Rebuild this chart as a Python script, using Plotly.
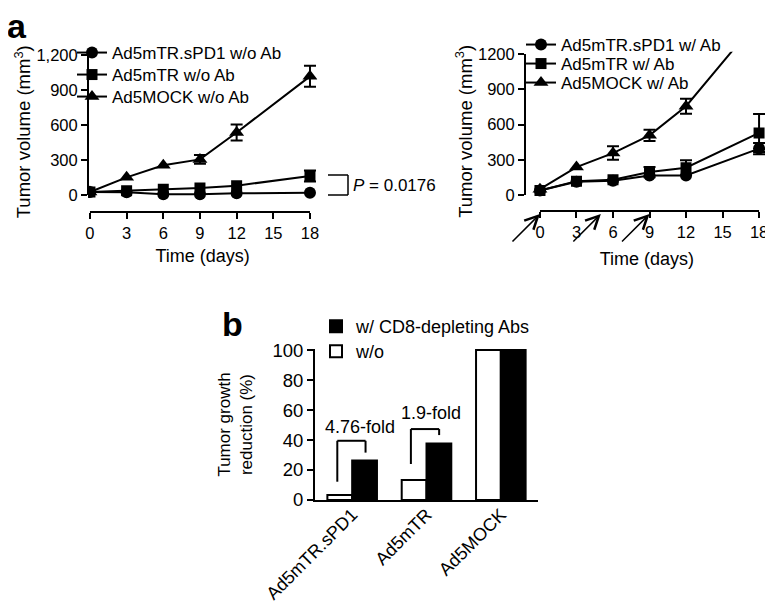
import plotly.graph_objects as go

# ---------------- data ----------------
days = [0, 3, 6, 9, 12, 18]
x_ticks = [0, 3, 6, 9, 12, 15, 18]
y_ticks = [0, 300, 600, 900, 1200]
y_ticklabels_left = ["0", "300", "600", "900", "1,200"]
y_ticklabels_right = ["0", "300", "600", "900", "1200"]

# panel a, left (without antibody)
spd1_wo = [25, 23, 6, 6, 14, 20]
spd1_wo_err = [0, 0, 0, 0, 0, 0]
mtr_wo = [25, 37, 49, 60, 80, 162]
mtr_wo_err = [0, 0, 0, 0, 0, 47]
mock_wo = [25, 151, 254, 305, 536, 1017]
mock_wo_err = [0, 0, 0, 38, 68, 90]

# panel a, right (with antibody)
spd1_w = [38, 113, 122, 167, 167, 395]
spd1_w_err = [0, 0, 0, 0, 0, 48]
mtr_w = [38, 118, 130, 195, 232, 528]
mtr_w_err = [0, 0, 0, 43, 63, 162]
mock_w = [50, 238, 357, 508, 756, 1500]
mock_w_err = [0, 0, 57, 48, 64, 0]

arrow_days = [0, 5, 9]

# panel b
groups = ["Ad5mTR.sPD1", "Ad5mTR", "Ad5MOCK"]
reduction_wo = [3.3, 13.3, 100]
reduction_w = [26.4, 37.6, 100]
b_ticks = [0, 20, 40, 60, 80, 100]

# ---------------- layout helpers ----------------
# the page body adds an 8 px margin, so the figure is 8 px smaller and
# positions below are given in window pixels
OFF = 8
W, H = 773 - OFF, 604 - OFF
FONT = "Liberation Sans, Arial, Helvetica, sans-serif"


def px(x):
    return (x - OFF) / W


def py(y):
    return 1 - (y - OFF) / H


fig = go.Figure()

series_left = [
    ("Ad5mTR.sPD1 w/o Ab", spd1_wo, spd1_wo_err, "circle", 12, "legend", 53),
    ("Ad5mTR w/o Ab", mtr_wo, mtr_wo_err, "square", 11, "legend2", 75),
    ("Ad5MOCK w/o Ab", mock_wo, mock_wo_err, "triangle-up", 13, "legend3", 97),
]
series_right = [
    ("Ad5mTR.sPD1 w/ Ab", spd1_w, spd1_w_err, "circle", 12, "legend4", 45),
    ("Ad5mTR w/ Ab", mtr_w, mtr_w_err, "square", 11, "legend5", 64),
    ("Ad5MOCK w/ Ab", mock_w, mock_w_err, "triangle-up", 13, "legend6", 83),
]


def add_series(series, xa, ya):
    # error bars only where an error is visible
    for (name, vals, err, sym, size, lg, _) in series:
        ex = [d for d, e in zip(days, err) if e > 0]
        ey = [v for v, e in zip(vals, err) if e > 0]
        ee = [e for e in err if e > 0]
        if ex:
            fig.add_trace(go.Scatter(
                x=ex, y=ey, mode="markers", showlegend=False, hoverinfo="skip",
                marker=dict(size=1, color="rgba(0,0,0,0)"),
                error_y=dict(type="data", array=ee, visible=True, color="black",
                             thickness=2, width=6),
                xaxis=xa, yaxis=ya,
            ))
    for (name, vals, err, sym, size, lg, _) in series:
        fig.add_trace(go.Scatter(
            x=days, y=vals, name=name, mode="lines+markers",
            line=dict(color="black", width=2),
            marker=dict(symbol=sym, size=size, color="black"),
            xaxis=xa, yaxis=ya, legend=lg,
        ))


add_series(series_left, "x", "y")
add_series(series_right, "x2", "y2")

fig.add_trace(go.Bar(
    x=groups, y=reduction_wo, name="w/o",
    marker=dict(color="white", line=dict(color="black", width=2)),
    xaxis="x3", yaxis="y3", legend="legend8",
))
fig.add_trace(go.Bar(
    x=groups, y=reduction_w, name="w/ CD8-depleting Abs",
    marker=dict(color="black", line=dict(color="black", width=2)),
    xaxis="x3", yaxis="y3", legend="legend7",
))

axis_common = dict(
    showgrid=False, zeroline=False, showline=False, automargin=False,
    ticks="outside", ticklen=6, tickwidth=2, tickcolor="black",
    tickfont=dict(size=16.5, color="black", family=FONT),
)

legends = {}
for (name, _, _, _, _, lg, yrow) in series_left:
    legends[lg] = dict(x=px(72), y=py(yrow), xanchor="left", yanchor="middle",
                       bgcolor="rgba(0,0,0,0)", font=dict(size=17))
for (name, _, _, _, _, lg, yrow) in series_right:
    legends[lg] = dict(x=px(521), y=py(yrow), xanchor="left", yanchor="middle",
                       bgcolor="rgba(0,0,0,0)", font=dict(size=17))
legends["legend7"] = dict(x=px(316), y=py(326.5), xanchor="left", yanchor="middle",
                          bgcolor="rgba(0,0,0,0)", font=dict(size=18))
legends["legend8"] = dict(x=px(316), y=py(351.5), xanchor="left", yanchor="middle",
                          bgcolor="rgba(0,0,0,0)", font=dict(size=18))

fig.update_layout(
    width=W, height=H,
    margin=dict(l=0, r=0, t=0, b=0, autoexpand=False),
    paper_bgcolor="white", plot_bgcolor="white",
    font=dict(family=FONT, color="black", size=17),
    barmode="group", bargap=0.333, bargroupgap=0,
    xaxis=dict(domain=[px(88), px(317.3)], range=[-0.16, 18.6],
               tickvals=x_ticks, anchor="y",
               title=dict(text="Time (days)", font=dict(size=18), standoff=8),
               **axis_common),
    yaxis=dict(domain=[py(212), py(51.5)], range=[-146, 1230],
               tickvals=y_ticks, ticktext=y_ticklabels_left, anchor="x",
               title=dict(text="Tumor volume (mm<sup>3</sup>)", font=dict(size=18.5), standoff=0),
               **axis_common),
    xaxis2=dict(domain=[px(525), px(768.8)], range=[-1.23, 18.8],
                tickvals=x_ticks, anchor="y2",
                title=dict(text="Time (days)", font=dict(size=18), standoff=12),
                **axis_common),
    yaxis2=dict(domain=[py(211), py(51.65)], range=[-136, 1220],
                tickvals=y_ticks, ticktext=y_ticklabels_right, anchor="x2",
                title=dict(text="Tumor volume (mm<sup>3</sup>)", font=dict(size=18.5), standoff=0),
                **axis_common),
    xaxis3=dict(domain=[px(315), px(538)], range=[-0.5, 2.5], anchor="y3",
                showgrid=False, zeroline=False, showline=True, linewidth=2,
                linecolor="black", ticks="", tickangle=-45, automargin=False,
                ticklabelstandoff=-5,
                tickfont=dict(size=18, color="black", family=FONT)),
    yaxis3=dict(domain=[py(500), py(349)], range=[0, 100.7], anchor="x3",
                tickvals=b_ticks, automargin=False,
                showgrid=False, zeroline=False, showline=True, linewidth=2,
                linecolor="black", ticks="outside", ticklen=6, tickwidth=2,
                tickcolor="black",
                tickfont=dict(size=18.5, color="black", family=FONT),
                title=dict(text="Tumor growth<br>reduction (%)", font=dict(size=17), standoff=15)),
    **legends,
)

# offset-style axis lines for panel a
shapes = []
for xa, ya, ymax in (("x", "y", 1200), ("x2", "y2", 1200)):
    shapes.append(dict(type="line", xref=f"{xa} domain", yref=ya,
                       x0=0, x1=0, y0=0, y1=ymax,
                       line=dict(color="black", width=2)))
    shapes.append(dict(type="line", xref=xa, yref=f"{ya} domain",
                       x0=0, x1=18, y0=0, y1=0,
                       line=dict(color="black", width=2)))

# P-value bracket (left panel)
for (x0, y0, x1, y1) in ((328, 175, 348, 175), (348, 175, 348, 195), (328, 195, 348, 195)):
    shapes.append(dict(type="line", xref="paper", yref="paper",
                       x0=px(x0), y0=py(y0), x1=px(x1), y1=py(y1),
                       line=dict(color="black", width=1.5)))

# fold-change brackets (panel b)
brackets = [
    (-0.2, 12.2, 0.18, 39.5, 31.6),
    (0.79, 24.0, 1.17, 47.3, 43.3),
]
for (xl, yl, xr, ytop, yr) in brackets:
    for seg in ((xl, yl, xl, ytop), (xl, ytop, xr, ytop), (xr, ytop, xr, yr)):
        shapes.append(dict(type="line", xref="x3", yref="y3",
                           x0=seg[0], y0=seg[1], x1=seg[2], y1=seg[3],
                           line=dict(color="black", width=2)))

fig.update_layout(shapes=shapes)

annotations = [
    dict(text="<b>a</b>", x=px(5), y=py(26), xref="paper", yref="paper",
         xanchor="left", yanchor="middle", showarrow=False,
         font=dict(size=34)),
    dict(text="<b>b</b>", x=px(220), y=py(324), xref="paper", yref="paper",
         xanchor="left", yanchor="middle", showarrow=False,
         font=dict(size=34)),
    dict(text="<i>P</i> = 0.0176", x=px(351), y=py(185), xref="paper", yref="paper",
         xanchor="left", yanchor="middle", showarrow=False,
         font=dict(size=17)),
    dict(text="4.76-fold", x=0.1, y=48.4, xref="x3", yref="y3",
         showarrow=False, font=dict(size=18)),
    dict(text="1.9-fold", x=1.06, y=58.2, xref="x3", yref="y3",
         showarrow=False, font=dict(size=18)),
]
for d in arrow_days:
    annotations.append(dict(
        x=d, y=py(214), xref="x2", yref="paper", text="",
        showarrow=True, arrowhead=5, arrowsize=1.7, arrowwidth=1.5,
        arrowcolor="black", ax=-29, ay=29,
    ))
fig.update_layout(annotations=annotations)

fig.write_html("out.html")
